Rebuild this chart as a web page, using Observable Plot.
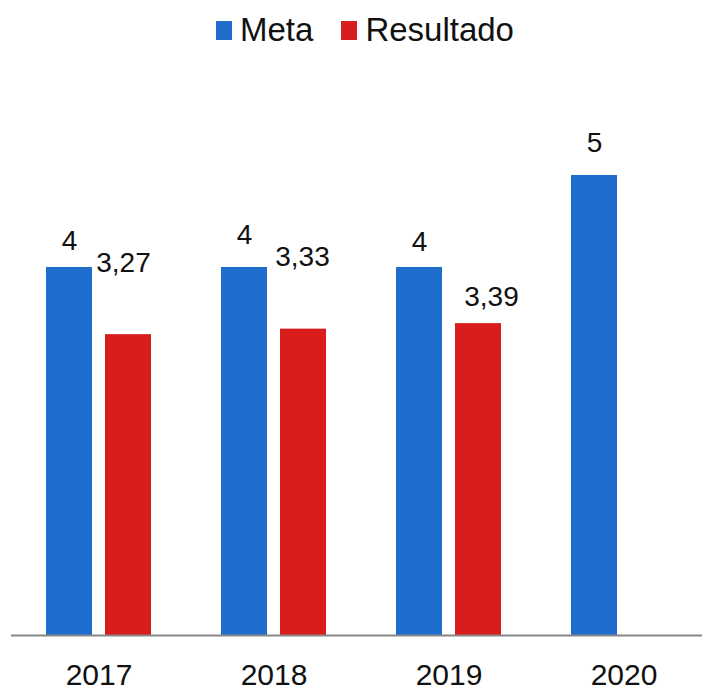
<!DOCTYPE html>
<html>
<head>
<meta charset="utf-8">
<script src="https://cdn.jsdelivr.net/npm/d3@7"></script>
<script src="https://cdn.jsdelivr.net/npm/@observablehq/plot@0.6"></script>
<style>
  html, body { margin: 0; padding: 0; background: #fff; }
  body { width: 702px; height: 691px; overflow: hidden; font-family: "Liberation Sans", Arial, sans-serif; }
  #legend { height: 60px; display: flex; justify-content: center; align-items: center; padding-left: 28px; box-sizing: border-box; font-size: 33px; color: #111; }
  .item { display: flex; align-items: center; margin: 0 14px; }
  .sw { width: 16px; height: 19px; margin-right: 8px; }
</style>
</head>
<body>
<div id="legend"></div>
<div id="chart"></div>
<script>
const years = ["2017", "2018", "2019", "2020"];
const series = ["Meta", "Resultado"];
const meta = [4, 4, 4, 5];
const resultado = [3.27, 3.33, 3.39, null];
const colors = ["#1f6dcd", "#d81d1c"];

// label nudges (pixels) to reproduce the original label placement
const nudges = {
  "Meta-2017": [0, -26], "Meta-2018": [0, -32], "Meta-2019": [0, -25], "Meta-2020": [0, -32],
  "Resultado-2017": [-5, -72], "Resultado-2018": [-1, -72], "Resultado-2019": [13, -27]
};

const rows = [];
years.forEach((y, i) => {
  if (meta[i] != null) rows.push({year: y, series: "Meta", value: meta[i]});
  if (resultado[i] != null) rows.push({year: y, series: "Resultado", value: resultado[i]});
});

const fmt = v => String(v).replace(".", ",");

const labelMarks = rows.map(r => {
  const [dx, dy] = nudges[r.series + "-" + r.year];
  return Plot.text([r], {
    fx: "year", x: "series", y: "value", text: d => fmt(d.value),
    dx, dy, fontSize: 28, fill: "#111", lineAnchor: "middle"
  });
});

const legend = document.getElementById("legend");
series.forEach((s, i) => {
  const it = document.createElement("div");
  it.className = "item";
  it.innerHTML = `<span class="sw" style="background:${colors[i]}"></span><span>${s}</span>`;
  legend.appendChild(it);
});

const chart = Plot.plot({
  width: 702,
  height: 631,
  marginLeft: 11,
  marginRight: -9,
  marginTop: 115,
  marginBottom: 56,
  style: {fontFamily: '"Liberation Sans", Arial, sans-serif', background: "#fff", overflow: "visible"},
  fx: {domain: years, padding: 0, label: null, axis: "bottom", tickSize: 0, tickPadding: 28, fontSize: 30},
  x: {domain: series, paddingInner: 0.22, paddingOuter: 0.593, axis: null},
  y: {domain: [0, 5], axis: null},
  color: {domain: series, range: colors},
  marks: [
    Plot.barY(rows, {fx: "year", x: "series", y: "value", fill: "series"}),
    Plot.ruleY([0], {stroke: "#888", strokeWidth: 2}),
    ...labelMarks
  ]
});
chart.querySelectorAll('[aria-label="fx-axis tick label"] text').forEach(t => { t.style.fontSize = "30px"; t.setAttribute("fill", "#111"); });
document.getElementById("chart").appendChild(chart);
</script>
</body>
</html>
